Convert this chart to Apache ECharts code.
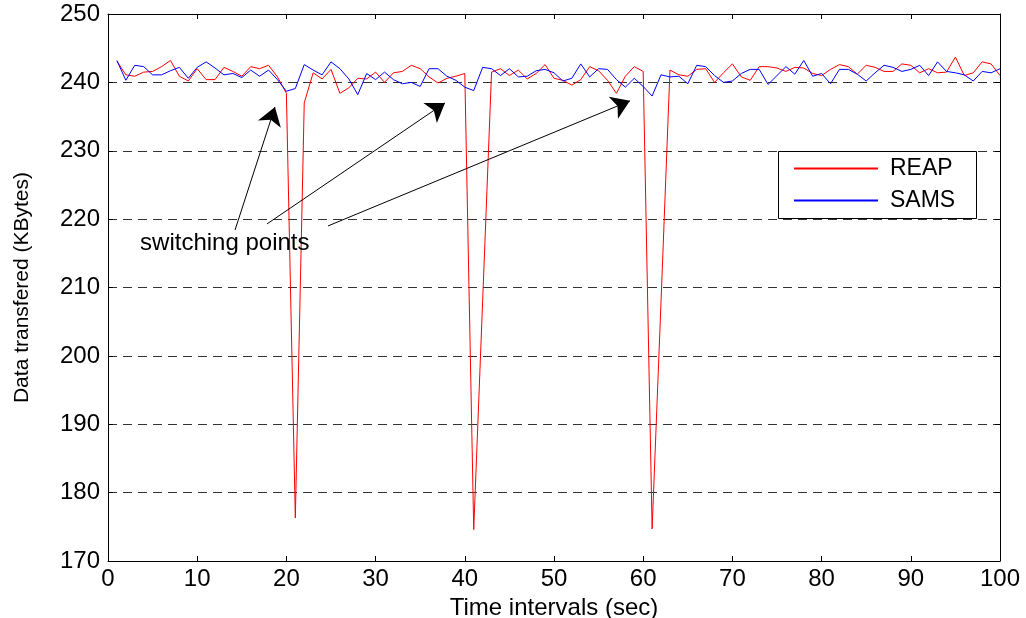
<!DOCTYPE html>
<html>
<head>
<meta charset="utf-8">
<script src="https://cdn.jsdelivr.net/npm/echarts@6/dist/echarts.min.js"></script>
<style>
html,body{margin:0;padding:0;background:#fff;}
#c{width:1026px;height:618px;}
</style>
</head>
<body>
<div id="c"></div>
<script>
// ---- data ----
const timeIntervals = [1,2,3,4,5,6,7,8,9,10,11,12,13,14,15,16,17,18,19,20,
  21,22,23,24,25,26,27,28,29,30,31,32,33,34,35,36,37,38,39,40,
  41,42,43,44,45,46,47,48,49,50,51,52,53,54,55,56,57,58,59,60,
  61,62,63,64,65,66,67,68,69,70,71,72,73,74,75,76,77,78,79,80,
  81,82,83,84,85,86,87,88,89,90,91,92,93,94,95,96,97,98,99,100];

const reapValues = [243.1,241.1,240.9,241.5,241.6,242.3,243.2,240.9,240.2,242.0,
  240.4,240.4,242.2,241.6,240.9,242.3,242.0,242.5,240.8,238.4,
  176.3,237.0,241.4,240.5,241.9,238.4,239.2,240.6,240.5,241.5,
  240.0,241.4,241.6,242.5,242.0,240.8,239.9,240.6,240.9,241.3,
  174.6,208.0,241.5,242.0,241.0,241.8,240.5,241.3,242.6,240.6,
  240.3,239.6,240.4,242.3,241.7,240.3,238.4,240.9,242.3,241.6,
  174.7,208.0,241.8,241.1,240.9,241.9,242.0,240.0,241.4,242.7,
  240.8,240.3,242.3,242.3,242.1,241.6,242.2,242.1,241.3,241.0,
  241.9,242.6,242.3,241.2,242.5,242.2,241.6,241.6,242.7,242.5,
  241.4,242.0,241.4,241.5,243.7,241.0,241.4,243.0,242.7,241.0];

const samsValues = [243.2,240.3,242.5,242.3,241.1,241.1,241.7,242.2,240.6,242.2,
  243.0,242.1,241.1,241.3,240.7,241.8,240.9,241.8,240.4,238.7,
  239.1,242.6,241.8,241.1,243.0,242.0,240.5,238.2,241.3,240.4,
  241.5,240.4,239.8,240.0,239.4,242.0,242.0,240.9,240.3,239.3,
  238.8,242.2,242.0,241.0,242.0,240.8,240.9,241.7,241.9,241.4,
  240.2,240.6,242.7,240.8,242.0,241.9,240.4,239.3,240.6,239.4,
  238.0,241.1,240.8,240.9,239.8,242.5,242.3,241.0,240.0,240.2,
  241.3,241.9,241.9,239.7,241.0,242.3,241.2,243.2,240.9,241.3,
  239.8,241.9,241.9,241.2,240.2,241.4,242.5,242.2,241.6,241.9,
  242.5,241.0,243.0,241.6,241.4,241.1,240.2,241.6,241.4,242.0];

const seriesNames = ['REAP', 'SAMS'];
const xTicks = {min: 0, max: 100, interval: 10};
const yTicks = {min: 170, max: 250, interval: 10};
const xAxisTitle = 'Time intervals (sec)';
const yAxisTitle = 'Data transfered (KBytes)';

// annotation: text anchor and arrows (data coordinates)
const annotationText = 'switching points';
const annotationAnchor = [3.6, 216.5];
const arrowTails = [[14.24, 218.4], [17.83, 219.3], [24.66, 219.0]];
const arrowHeads = [[18.72, 236.4], [37.78, 237.0], [58.52, 237.3]];

// ---- chart ----
const FONT = "'Liberation Sans', Arial, Helvetica, sans-serif";
const chart = echarts.init(document.getElementById('c'), null, {renderer: 'canvas'});

function pairs(xs, ys) { return xs.map((x, i) => [x, ys[i]]); }

const tickStyle = {show: true, inside: true, length: 5, lineStyle: {color: '#000', width: 1}};
const lineStyleAxis = {show: true, onZero: false, lineStyle: {color: '#000', width: 1}};

const option = {
  animation: false,
  backgroundColor: '#ffffff',
  grid: {left: 108, right: 26, top: 14, bottom: 57, containLabel: false, outerBoundsMode: 'none'},
  xAxis: [
    {
      type: 'value', position: 'bottom',
      min: xTicks.min, max: xTicks.max, interval: xTicks.interval,
      axisLine: lineStyleAxis, axisTick: tickStyle,
      axisLabel: {color: '#000', fontSize: 24, fontFamily: FONT, margin: 6},
      splitLine: {show: false},
      name: xAxisTitle, nameLocation: 'middle', nameGap: 32,
      nameTextStyle: {color: '#000', fontSize: 24, fontFamily: FONT}
    },
    {
      type: 'value', position: 'top',
      min: xTicks.min, max: xTicks.max, interval: xTicks.interval,
      axisLine: lineStyleAxis, axisTick: tickStyle,
      axisLabel: {show: false}, splitLine: {show: false}
    }
  ],
  yAxis: [
    {
      type: 'value', position: 'left',
      min: yTicks.min, max: yTicks.max, interval: yTicks.interval,
      axisLine: lineStyleAxis, axisTick: tickStyle,
      axisLabel: {color: '#000', fontSize: 24, fontFamily: FONT, margin: 8},
      splitLine: {show: true, lineStyle: {color: '#333', width: 1, type: [9, 6]}},
      name: yAxisTitle, nameLocation: 'middle', nameGap: 75, nameRotate: 90,
      nameTextStyle: {color: '#000', fontSize: 21, fontFamily: FONT}
    },
    {
      type: 'value', position: 'right',
      min: yTicks.min, max: yTicks.max, interval: yTicks.interval,
      axisLine: lineStyleAxis, axisTick: tickStyle,
      axisLabel: {show: false}, splitLine: {show: false}
    }
  ],
  legend: {
    orient: 'vertical',
    left: 793, top: 157,
    padding: 0,
    itemWidth: 84, itemHeight: 22, itemGap: 9,
    selectedMode: false,
    itemStyle: {color: 'rgba(0,0,0,0)', borderWidth: 0, opacity: 0},
    textStyle: {color: '#000', fontSize: 23, fontFamily: FONT, lineHeight: 22, padding: [0, 0, 0, 7]},
    data: seriesNames
  },
  graphic: [
    {
      type: 'rect', z: 3, silent: true,
      shape: {x: 778.5, y: 151.5, width: 198, height: 67},
      style: {fill: '#ffffff', stroke: '#000000', lineWidth: 1}
    }
  ],
  series: [
    {
      name: seriesNames[0], type: 'line',
      data: pairs(timeIntervals, reapValues),
      symbol: 'none', showSymbol: false,
      lineStyle: {color: '#ff0000', width: 1},
      itemStyle: {color: '#ff0000'},
      z: 2,
      markLine: {
        silent: true, animation: false,
        symbol: ['none', 'arrow'],
        symbolSize: 18,
        label: {show: false},
        emphasis: {disabled: true},
        lineStyle: {color: '#000', width: 1, type: 'solid'},
        itemStyle: {color: '#000'},
        data: arrowTails.map((t, i) => [{coord: t}, {coord: arrowHeads[i]}])
      },
      markPoint: {
        silent: true, animation: false,
        symbol: 'circle', symbolSize: 0,
        itemStyle: {color: 'rgba(0,0,0,0)'},
        label: {
          show: true, position: 'right', distance: 0,
          color: '#000', fontSize: 24, fontFamily: FONT,
          formatter: annotationText
        },
        data: [{coord: annotationAnchor}]
      }
    },
    {
      name: seriesNames[1], type: 'line',
      data: pairs(timeIntervals, samsValues),
      symbol: 'none', showSymbol: false,
      lineStyle: {color: '#0000ff', width: 1},
      itemStyle: {color: '#0000ff'},
      z: 2
    }
  ]
};
chart.setOption(option);
</script>
</body>
</html>
